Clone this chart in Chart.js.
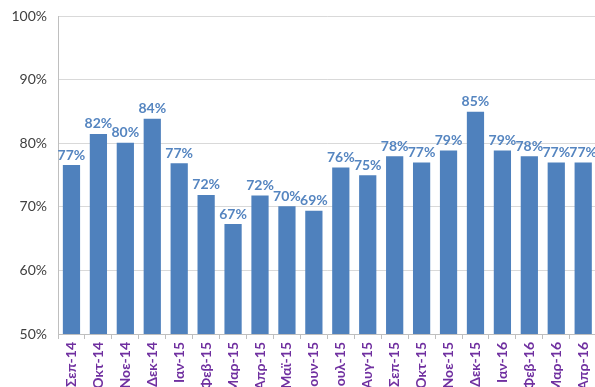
<!DOCTYPE html>
<html>
<head>
<meta charset="utf-8">
<script src="https://cdn.jsdelivr.net/npm/chart.js@4/dist/chart.umd.min.js"></script>
<style>
  html, body { margin: 0; padding: 0; background: #fff; overflow: hidden; }
  #wrap { width: 603px; height: 420px; margin-top: -3px; }
</style>
</head>
<body>
<div id="wrap"><canvas id="chart" width="603" height="420"></canvas></div>
<script>
// Chart data
const months = ['Σεπ-14', 'Οκτ-14', 'Νοε-14', 'Δεκ-14', 'Ιαν-15', 'Φεβ-15', 'Μαρ-15', 'Απρ-15', 'Μαϊ-15', 'Ιουν-15',
    'Ιουλ-15', 'Αυγ-15', 'Σεπ-15', 'Οκτ-15', 'Νοε-15', 'Δεκ-15', 'Ιαν-16', 'Φεβ-16', 'Μαρ-16', 'Απρ-16'];
const rates = [76.6, 81.5, 80.1, 83.9, 76.9, 71.9, 67.3, 71.8, 70.1, 69.4,
    76.2, 75.0, 78.0, 77.0, 78.9, 85.0, 78.9, 78.0, 77.0, 77.0];
const yTicks = [50, 60, 70, 80, 90, 100];

// Value labels above bars
const valueLabels = {
    id: 'valueLabels',
    afterDatasetsDraw(chart) {
        const ctx = chart.ctx;
        ctx.save();
        ctx.font = 'bold 14px Lato, "Open Sans", sans-serif';
        ctx.fillStyle = '#5585C0';
        ctx.textAlign = 'center';
        ctx.textBaseline = 'bottom';
        chart.getDatasetMeta(0).data.forEach((bar, i) => {
            ctx.fillText(Math.round(rates[i]) + '%', bar.x, bar.y - 3);
        });
        ctx.restore();
    }
};

const ctx = document.getElementById('chart').getContext('2d');
new Chart(ctx, {
    type: 'bar',
    data: {
        labels: months,
        datasets: [{
            data: rates,
            backgroundColor: '#4F81BD',
            barPercentage: 0.64,
            categoryPercentage: 1
        }]
    },
    options: {
        responsive: false,
        animation: false,
        events: [],
        layout: { padding: { top: 9, right: 0, left: 0, bottom: 0 } },
        plugins: { legend: { display: false }, tooltip: { enabled: false } },
        scales: {
            x: {
                afterFit(scale) { scale.height = 83; },
                grid: { display: true, drawOnChartArea: false, offset: true, tickLength: 5, color: '#bfbfbf' },
                border: { color: '#bfbfbf' },
                ticks: {
                    autoSkip: false,
                    minRotation: 90,
                    maxRotation: 90,
                    padding: 3,
                    color: '#7030A0',
                    font: { family: 'Lato, "Open Sans", sans-serif', size: 14, weight: 'bold' }
                }
            },
            y: {
                min: 50,
                max: 100,
                afterFit(scale) { scale.width = 58; },
                afterBuildTicks(scale) { scale.ticks = yTicks.map(v => ({ value: v })); },
                grid: { color: '#d9d9d9', drawTicks: false },
                border: { color: '#bfbfbf' },
                ticks: {
                    padding: 11,
                    color: '#404040',
                    font: { family: 'Lato, "Open Sans", sans-serif', size: 14 },
                    callback: v => v + '%'
                }
            }
        }
    },
    plugins: [valueLabels]
});
</script>
</body>
</html>
